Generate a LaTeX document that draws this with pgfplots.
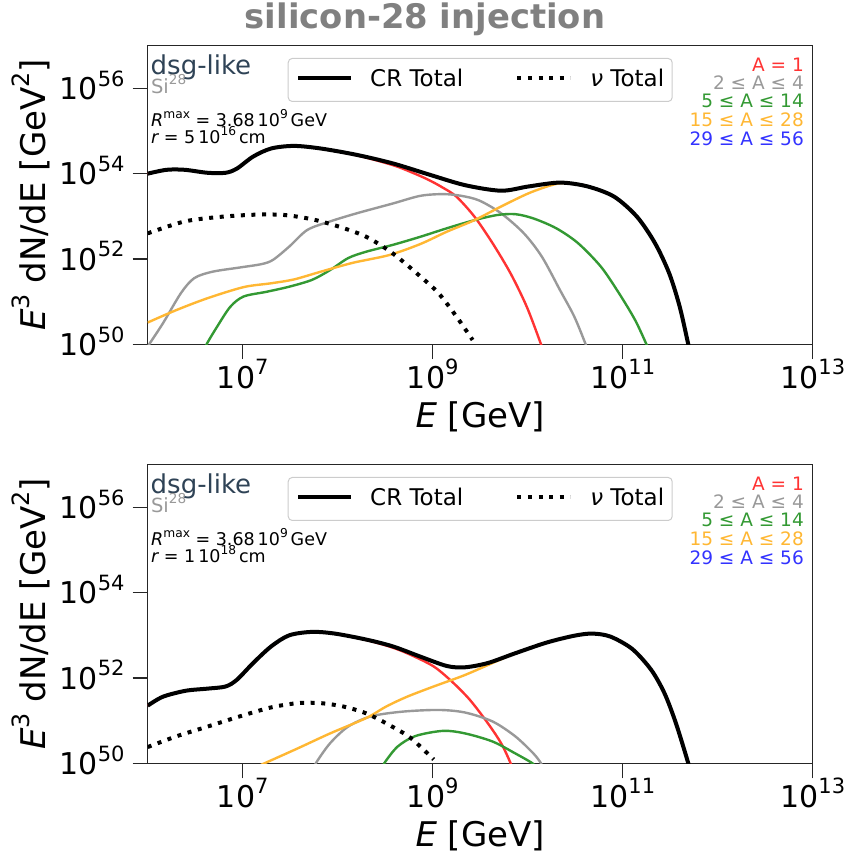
\documentclass[border=0pt]{standalone}
\usepackage{fontspec}
\setmainfont{DejaVu Sans}
\usepackage{graphicx}
\usepackage{pgfplots}
\pgfplotsset{compat=1.18}

\definecolor{cA}{RGB}{255,51,51}
\definecolor{cB}{RGB}{153,153,153}
\definecolor{cC}{RGB}{51,153,51}
\definecolor{cD}{RGB}{255,183,51}
\definecolor{cE}{RGB}{51,51,255}
\definecolor{slate}{RGB}{47,67,86}
\definecolor{titlegray}{RGB}{128,128,128}

% superscript in the text font
\newcommand\pw[1]{\raisebox{0.45em}{\scalebox{0.7}{#1}}}

\pgfplotsset{
  every axis/.append style={
    scale only axis, width=665bp, height=298.6bp,
    xmode=log, ymode=log,
    xmin=1e6, xmax=1e13, ymin=1e50, ymax=1e57,
    xtick={1e7,1e9,1e11,1e13},
    xticklabels={10\pw{7},10\pw{9},10\pw{11},10\pw{13}},
    ytick={1e50,1e52,1e54,1e56},
    yticklabels={10\pw{50},10\pw{52},10\pw{54},10\pw{56}},
    xminorticks=false, yminorticks=false,
    xtick pos=bottom, ytick pos=left,
    tick align=outside, major tick length=15bp,
    every tick/.style={black!85, line width=1.2bp},
    axis line style={black!85, line width=1.2bp},
    tick label style={font=\fontsize{30bp}{36bp}\selectfont, inner sep=0pt},
    xticklabel style={anchor=base, yshift=-29bp},
    yticklabel style={anchor=base east, xshift=-8bp, yshift=-11.3bp},
    label style={font=\fontsize{34bp}{40bp}\selectfont, inner sep=0pt},
    xlabel={{\itshape E} [GeV]},
    ylabel={{\itshape E}\pw{3} dN/dE [GeV\pw{2}]},
    xlabel style={at={(axis description cs:0.5,-0.2803)}, anchor=base},
    ylabel style={at={(axis description cs:-0.1544,0.5)}, anchor=base},
    legend columns=2,
    legend image code/.code={\draw[#1] (0bp,2bp) -- (53bp,2bp);},
    legend style={
      at={(axis description cs:0.5,1)}, anchor=north, yshift=-12.3bp,
      draw=black!20, line width=1bp, rounded corners=4bp, fill=white,
      inner xsep=8bp, inner ysep=11bp,
      font=\fontsize{23bp}{27bp}\selectfont,
      nodes={inner sep=0pt, text height=17bp, text depth=4bp},
      column sep=17bp,
      /tikz/column 2/.style={column sep=52bp},
      /tikz/column 3/.style={column sep=18bp},
    },
  },
}

% labels written inside each panel
\newcommand\panelnotes[1]{%
  \node[anchor=base west, inner sep=0pt, text=slate, font=\fontsize{26bp}{30bp}\selectfont]
    at (axis description cs:0.0042,0.9040) {dsg-like};
  \node[anchor=base west, inner sep=0pt, text=cB, font=\fontsize{19.5bp}{24bp}\selectfont]
    at (axis description cs:0.0048,0.8406) {Si\pw{28}};
  \node[anchor=base west, inner sep=0pt, font=\fontsize{17.5bp}{21bp}\selectfont]
    at (axis description cs:0.005,0.7290) {{\itshape R}\pw{max} = 3.68\,10\pw{9}\,GeV};
  \node[anchor=base west, inner sep=0pt, font=\fontsize{17.5bp}{21bp}\selectfont]
    at (axis description cs:0.005,0.6730) {{\itshape r} = #1\,cm};
  \node[anchor=base east, inner sep=0pt, text=cA, font=\fontsize{18.5bp}{22bp}\selectfont]
    at (axis description cs:0.9869,0.9119) {A = 1};
  \node[anchor=base east, inner sep=0pt, text=cB, font=\fontsize{18.5bp}{22bp}\selectfont]
    at (axis description cs:0.9869,0.8516) {2 ≤ A ≤ 4};
  \node[anchor=base east, inner sep=0pt, text=cC, font=\fontsize{18.5bp}{22bp}\selectfont]
    at (axis description cs:0.9869,0.7914) {5 ≤ A ≤ 14};
  \node[anchor=base east, inner sep=0pt, text=cD, font=\fontsize{18.5bp}{22bp}\selectfont]
    at (axis description cs:0.9869,0.7277) {15 ≤ A ≤ 28};
  \node[anchor=base east, inner sep=0pt, text=cE, font=\fontsize{18.5bp}{22bp}\selectfont]
    at (axis description cs:0.9869,0.6641) {29 ≤ A ≤ 56};
}

\begin{document}
\begin{tikzpicture}
\useasboundingbox (0bp,0bp) rectangle (849bp,855bp);

\node[anchor=base, inner sep=0pt, text=titlegray, font=\fontsize{33.8bp}{38bp}\selectfont\bfseries]
  at (425bp,826bp) {silicon-28 injection};

% ---------------- r = 5e16 cm ----------------
\begin{axis}[at={(147.7bp,510.7bp)}, anchor=south west]
% A = 1
\addplot[cA, line width=2.4bp, smooth, tension=0.5, forget plot]
  table[x expr=10^\thisrow{e}, y expr=10^\thisrow{f}] {
e f
6.00 54.00
6.20 54.09
6.39 54.09
6.63 54.02
6.82 54.02
6.94 54.12
7.11 54.40
7.30 54.59
7.54 54.65
7.82 54.59
8.20 54.43
8.58 54.20
8.80 54.01
8.96 53.85
9.10 53.68
9.25 53.46
9.44 52.99
9.63 52.37
9.82 51.66
9.99 50.88
10.14 50.00
10.20 49.60
};
% 2 <= A <= 4
\addplot[cB, line width=2.4bp, smooth, tension=0.5, forget plot]
  table[x expr=10^\thisrow{e}, y expr=10^\thisrow{f}] {
e f
6.00 49.95
6.16 50.49
6.35 51.20
6.49 51.55
6.68 51.70
6.97 51.80
7.20 51.88
7.32 51.98
7.49 52.29
7.68 52.68
7.92 52.88
8.20 53.07
8.58 53.30
8.87 53.48
9.11 53.52
9.30 53.48
9.49 53.37
9.72 53.07
9.96 52.60
10.15 52.05
10.34 51.27
10.49 50.65
10.61 50.00
10.65 49.75
};
% 5 <= A <= 14
\addplot[cC, line width=2.4bp, smooth, tension=0.5, forget plot]
  table[x expr=10^\thisrow{e}, y expr=10^\thisrow{f}] {
e f
6.60 49.85
6.62 50.00
6.73 50.41
6.87 50.88
7.01 51.12
7.25 51.23
7.49 51.35
7.73 51.51
7.92 51.74
8.11 52.02
8.30 52.17
8.58 52.33
8.87 52.52
9.15 52.72
9.44 52.91
9.68 53.03
9.87 53.05
10.06 52.95
10.30 52.72
10.53 52.37
10.77 51.82
10.96 51.20
11.13 50.57
11.25 50.00
11.28 49.85
};
% 15 <= A <= 28
\addplot[cD, line width=2.4bp, smooth, tension=0.5, forget plot]
  table[x expr=10^\thisrow{e}, y expr=10^\thisrow{f}] {
e f
6.00 50.51
6.30 50.80
6.63 51.08
7.01 51.34
7.30 51.43
7.54 51.52
7.82 51.70
8.16 51.91
8.54 52.09
8.87 52.35
9.15 52.64
9.44 52.91
9.72 53.23
10.01 53.54
10.25 53.73
10.39 53.78
10.63 53.70
10.91 53.46
11.15 52.99
11.34 52.37
11.49 51.66
11.60 50.88
11.69 50.00
11.72 49.70
};
% CR total
\addplot[black, line width=4bp, smooth, tension=0.5, line join=round]
  table[x expr=10^\thisrow{e}, y expr=10^\thisrow{f}] {
e f
6.00 54.00
6.20 54.09
6.39 54.09
6.63 54.02
6.82 54.02
6.94 54.12
7.11 54.40
7.30 54.59
7.54 54.65
7.82 54.59
8.20 54.44
8.58 54.24
8.96 53.98
9.34 53.73
9.72 53.60
10.01 53.70
10.34 53.79
10.63 53.70
10.91 53.46
11.15 52.99
11.34 52.37
11.49 51.66
11.60 50.88
11.69 50.00
11.72 49.70
};
\addlegendentry{CR Total}
% neutrino total
\addplot[black, line width=4bp, dash pattern=on 4bp off 6.6bp, smooth, tension=0.5]
  table[x expr=10^\thisrow{e}, y expr=10^\thisrow{f}] {
e f
6.00 52.60
6.39 52.88
6.78 52.99
7.16 53.04
7.44 53.03
7.73 52.93
8.01 52.76
8.30 52.52
8.58 52.13
8.87 51.59
9.06 51.20
9.25 50.65
9.42 50.10
};
\addlegendentry{{\itshape ν} Total\hspace{7bp}}
\panelnotes{5\,10\pw{16}}
\end{axis}

% ---------------- r = 1e18 cm ----------------
\begin{axis}[at={(147.7bp,91.7bp)}, anchor=south west]
% A = 1
\addplot[cA, line width=2.4bp, smooth, tension=0.5, forget plot]
  table[x expr=10^\thisrow{e}, y expr=10^\thisrow{f}] {
e f
6.00 51.35
6.16 51.56
6.40 51.70
6.63 51.75
6.82 51.80
6.94 51.96
7.11 52.35
7.30 52.74
7.49 53.00
7.73 53.08
7.97 53.04
8.30 52.89
8.58 52.71
8.77 52.54
9.01 52.27
9.20 51.92
9.39 51.49
9.58 50.94
9.72 50.47
9.82 50.00
9.86 49.70
};
% 2 <= A <= 4
\addplot[cB, line width=2.4bp, smooth, tension=0.5, forget plot]
  table[x expr=10^\thisrow{e}, y expr=10^\thisrow{f}] {
e f
7.74 49.80
7.77 50.00
7.92 50.47
8.11 50.86
8.35 51.10
8.68 51.21
9.06 51.25
9.34 51.19
9.63 50.98
9.87 50.63
10.06 50.23
10.14 50.00
10.17 49.85
};
% 5 <= A <= 14
\addplot[cC, line width=2.4bp, smooth, tension=0.5, forget plot]
  table[x expr=10^\thisrow{e}, y expr=10^\thisrow{f}] {
e f
8.47 49.85
8.49 50.00
8.63 50.39
8.82 50.64
9.11 50.76
9.34 50.70
9.63 50.51
9.87 50.23
10.05 50.00
10.08 49.90
};
% 15 <= A <= 28
\addplot[cD, line width=2.4bp, smooth, tension=0.5, forget plot]
  table[x expr=10^\thisrow{e}, y expr=10^\thisrow{f}] {
e f
7.18 49.95
7.23 50.00
7.58 50.35
7.92 50.70
8.30 51.06
8.51 51.33
8.73 51.56
9.01 51.80
9.34 52.07
9.68 52.40
9.87 52.58
10.20 52.83
10.49 52.99
10.68 53.04
10.87 52.97
11.10 52.68
11.30 52.19
11.44 51.64
11.56 50.94
11.69 50.00
11.72 49.70
};
% CR total
\addplot[black, line width=4bp, smooth, tension=0.5, line join=round]
  table[x expr=10^\thisrow{e}, y expr=10^\thisrow{f}] {
e f
6.00 51.35
6.16 51.56
6.40 51.70
6.63 51.75
6.82 51.80
6.94 51.96
7.11 52.35
7.30 52.74
7.49 53.00
7.73 53.08
7.97 53.04
8.30 52.90
8.58 52.74
8.87 52.50
9.15 52.28
9.34 52.25
9.58 52.35
9.87 52.58
10.20 52.83
10.49 52.99
10.68 53.04
10.87 52.97
11.10 52.68
11.30 52.19
11.44 51.64
11.56 50.94
11.69 50.00
11.72 49.70
};
\addlegendentry{CR Total}
% neutrino total
\addplot[black, line width=4bp, dash pattern=on 4bp off 6.6bp, smooth, tension=0.5]
  table[x expr=10^\thisrow{e}, y expr=10^\thisrow{f}] {
e f
6.00 50.38
6.30 50.63
6.63 50.86
6.97 51.10
7.30 51.31
7.58 51.41
7.82 51.41
8.06 51.33
8.30 51.17
8.54 50.90
8.77 50.59
9.01 50.09
};
\addlegendentry{{\itshape ν} Total\hspace{7bp}}
\panelnotes{1\,10\pw{18}}
\end{axis}
\end{tikzpicture}
\end{document}
